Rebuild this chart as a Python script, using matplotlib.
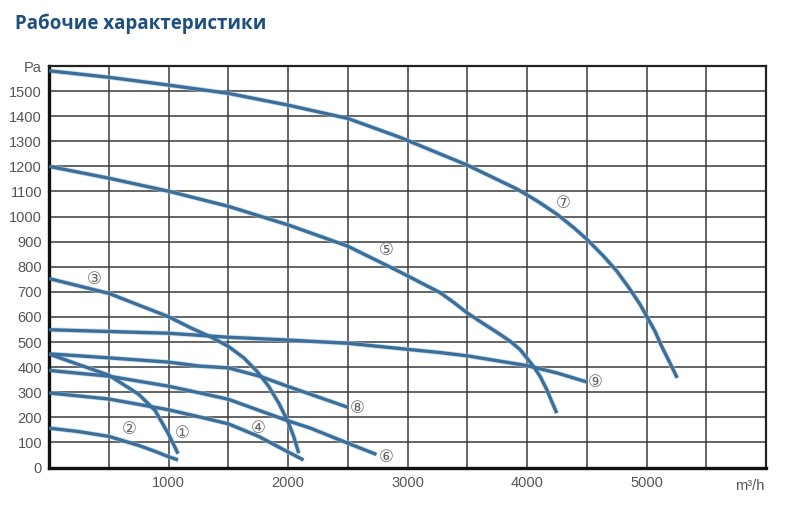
import matplotlib
matplotlib.use("Agg")
import matplotlib.pyplot as plt
import numpy as np

# данные кривых (расход м3/ч, давление Па)
c1_x = [0, 250, 500, 750, 890, 1000, 1080]
c1_y = [452, 410, 368, 292, 226, 133, 55]
c2_x = [0, 250, 500, 750, 890, 1000, 1080]
c2_y = [157, 143, 124, 88, 64, 43, 30]
c3_x = [0, 500, 1000, 1184, 1351, 1500, 1630, 1741, 1839, 1922, 2000, 2048, 2090]
c3_y = [753, 694, 601, 557, 521, 483, 437, 383, 323, 257, 183, 123, 57]
c4_x = [0, 500, 1000, 1264, 1500, 1750, 2000, 2130]
c4_y = [297, 273, 230, 201, 174, 125, 62, 30]
c5_x = [0, 500, 1000, 1500, 2000, 2500, 2930, 3272, 3384, 3497, 3636, 3748, 3859,
        3942, 3998, 4054, 4110, 4166, 4207, 4249]
c5_y = [1200, 1153, 1101, 1041, 967, 882, 781, 697, 659, 617, 573, 539, 503,
        470, 437, 403, 363, 310, 263, 217]
c6_x = [0, 500, 1000, 1264, 1500, 2000, 2187, 2500, 2740]
c6_y = [387, 364, 324, 297, 272, 186, 157, 97, 52]
c7_x = [0, 500, 1000, 1500, 2000, 2500, 2930, 3500, 3915, 4082, 4249, 4388, 4500,
        4639, 4751, 4862, 4946, 5001, 5071, 5127, 5196, 5257]
c7_y = [1581, 1555, 1524, 1491, 1444, 1391, 1317, 1205, 1110, 1063, 1010, 957, 910,
        843, 783, 710, 650, 603, 543, 483, 417, 357]
c8_x = [0, 500, 1000, 1264, 1500, 1769, 2000, 2187, 2500]
c8_y = [453, 437, 420, 404, 397, 363, 323, 292, 240]
c9_x = [0, 1000, 1500, 2000, 2500, 3000, 3272, 3500, 3692, 4000, 4249, 4500]
c9_y = [549, 535, 519, 508, 495, 471, 458, 445, 430, 406, 377, 341]

curves = [(c1_x, c1_y), (c2_x, c2_y), (c3_x, c3_y), (c4_x, c4_y), (c5_x, c5_y),
          (c6_x, c6_y), (c7_x, c7_y), (c8_x, c8_y), (c9_x, c9_y)]

# подписи кривых (номер, x, y)
marks = ["①", "②", "③", "④", "⑤", "⑥", "⑦", "⑧", "⑨"]
mark_x = [1114, 667, 375, 1750, 2820, 2825, 4300, 2583, 4570]
mark_y = [138, 154, 753, 159, 866, 43, 1053, 239, 339]

x_ticks = [1000, 2000, 3000, 4000, 5000]
y_ticks = list(range(0, 1600, 100))

title = "Рабочие характеристики"
line_color = "#3b6e99"
grid_color = "#3a3a3a"
tick_color = "#555555"
num_font = ["Liberation Sans Narrow", "Liberation Sans", "DejaVu Sans"]

fig = plt.figure(figsize=(7.89, 5.05), dpi=100)
ax = fig.add_axes([49 / 789, 1 - 467.5 / 505, (766 - 49) / 789, (467.5 - 66) / 505])

# сетка
for gx in np.arange(500, 6000, 500):
    ax.axvline(gx, color=grid_color, lw=1.1, zorder=1)
for gy in np.arange(100, 1600, 100):
    ax.axhline(gy, color=grid_color, lw=1.1, zorder=1)

for cx, cy in curves:
    ax.plot(cx, cy, color="#a9c8e4", lw=3.6, solid_capstyle="butt",
            solid_joinstyle="round", zorder=2, alpha=0.6)
    ax.plot(cx, cy, color=line_color, lw=2.4, solid_capstyle="butt",
            solid_joinstyle="round", zorder=3)

for m, mx, my in zip(marks, mark_x, mark_y):
    ax.text(mx, my, m, color="#666666", fontsize=12, ha="center", va="center",
            family=["DejaVu Sans", "Noto Sans CJK SC"], zorder=4)

ax.set_xlim(0, 6000)
ax.set_ylim(0, 1600)

ax.set_xticks(x_ticks)
ax.set_xticklabels([str(v) for v in x_ticks])
ax.set_yticks(y_ticks + [1600])
ax.set_yticklabels([str(v) for v in y_ticks] + ["Pa"])
ax.tick_params(length=0, colors=tick_color, labelsize=10.5, pad=6)
ax.tick_params(axis="y", pad=5)
for lab in ax.get_xticklabels() + ax.get_yticklabels():
    lab.set_family(num_font)

for side in ["left", "bottom"]:
    ax.spines[side].set_linewidth(2.4)
    ax.spines[side].set_color("#111111")
for side in ["right", "top"]:
    ax.spines[side].set_linewidth(1.6)
    ax.spines[side].set_color("#222222")

ax.text(1.0 - 0.022, -0.045, "m³/h", transform=ax.transAxes, color=tick_color,
        fontsize=10.5, ha="center", va="center", family=num_font)

fig.text(15 / 789, 1 - 29 / 505, title, color="#1d4f80", fontsize=13.5,
         fontweight="bold", family=["Open Sans", "DejaVu Sans"], va="baseline", ha="left")

fig.savefig("out.png", dpi=100, facecolor="white")
